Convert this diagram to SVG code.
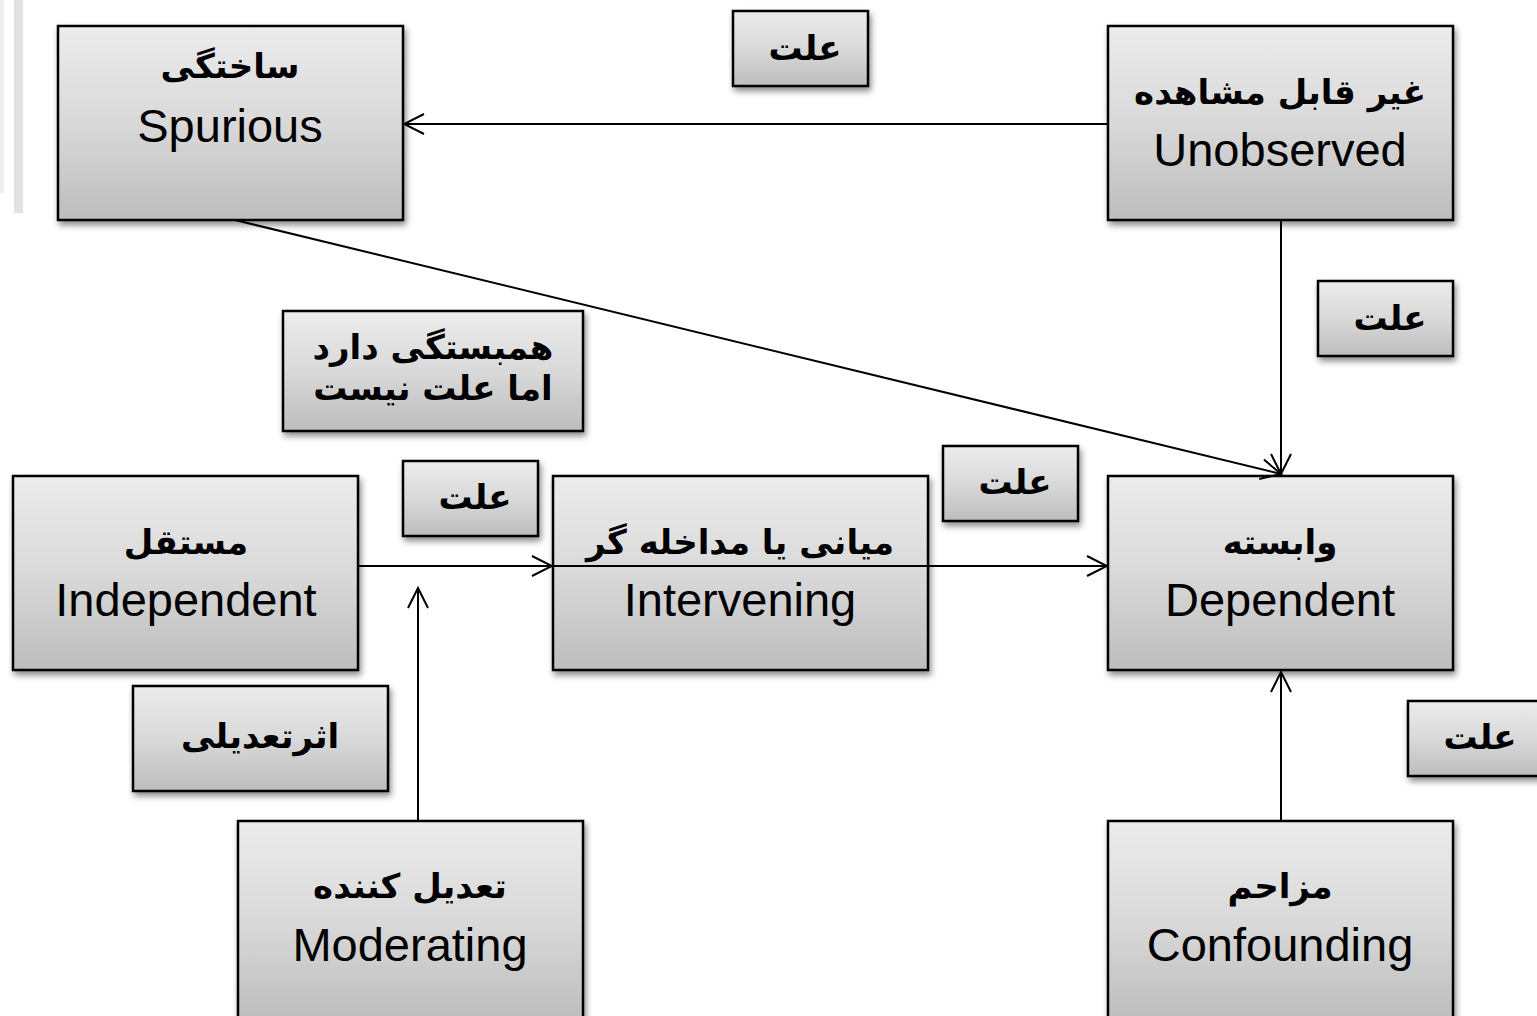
<svg xmlns="http://www.w3.org/2000/svg" width="1537" height="1016" viewBox="0 0 1537 1016">
<style>
.box{fill:url(#g);stroke:#000;stroke-width:2.5;filter:url(#sh)}
.fa{font-family:"DejaVu Sans",sans-serif;font-weight:bold;font-size:34px;fill:#000;text-anchor:middle}
.en{font-family:"Liberation Sans",Arial,sans-serif;font-size:47px;fill:#000;text-anchor:middle}
.ln{stroke:#000;stroke-width:2;fill:none;marker-end:url(#ar)}
</style>
<defs>
<linearGradient id="g" x1="0" y1="0" x2="0" y2="1">
<stop offset="0" stop-color="#ececec"/>
<stop offset="0.5" stop-color="#d9d9d9"/>
<stop offset="1" stop-color="#bdbdbd"/>
</linearGradient>
<filter id="sh" x="-10%" y="-10%" width="125%" height="130%">
<feDropShadow dx="2" dy="4" stdDeviation="3" flood-color="#000" flood-opacity="0.45"/>
</filter>
<marker id="ar" markerWidth="24" markerHeight="24" refX="22" refY="12" orient="auto" markerUnits="userSpaceOnUse">
<path d="M2,2 L22,12 L2,22" fill="none" stroke="#000" stroke-width="2"/>
</marker>
</defs>
<rect width="1537" height="1016" fill="#fff"/>
<rect x="0" y="0" width="4" height="193" fill="#eeeeee"/>
<rect x="14" y="0" width="9" height="213" fill="#e2e2e2"/>

<g id="n-spurious"><rect class="box" x="58" y="26" width="345" height="194"/><text class="fa" x="230" y="78">ساختگی</text><text class="en" x="230" y="142">Spurious</text></g>
<g id="n-unobserved"><rect class="box" x="1108" y="26" width="345" height="194"/><text class="fa" x="1280" y="104">غیر قابل مشاهده</text><text class="en" x="1280" y="166">Unobserved</text></g>
<g id="n-independent"><rect class="box" x="13" y="476" width="345" height="194"/><text class="fa" x="186" y="554">مستقل</text><text class="en" x="186" y="616">Independent</text></g>
<g id="n-intervening"><rect class="box" x="553" y="476" width="375" height="194"/><text class="fa" x="740" y="554">میانی یا مداخله گر</text><text class="en" x="740" y="616">Intervening</text></g>
<g id="n-dependent"><rect class="box" x="1108" y="476" width="345" height="194"/><text class="fa" x="1280" y="554">وابسته</text><text class="en" x="1280" y="616">Dependent</text></g>
<g id="n-moderating"><rect class="box" x="238" y="821" width="345" height="200"/><text class="fa" x="410" y="898">تعدیل کننده</text><text class="en" x="410" y="961">Moderating</text></g>
<g id="n-confounding"><rect class="box" x="1108" y="821" width="345" height="200"/><text class="fa" x="1280" y="898">مزاحم</text><text class="en" x="1280" y="961">Confounding</text></g>

<g id="l1"><rect class="box" x="733" y="11" width="135" height="75"/><text class="fa" x="805" y="60">علت</text></g>
<g id="l2"><rect class="box" x="1318" y="281" width="135" height="75"/><text class="fa" x="1390" y="330">علت</text></g>
<g id="l3"><rect class="box" x="283" y="311" width="300" height="120"/><text class="fa" x="433" y="359" font-size="30">همبستگی دارد</text><text class="fa" x="433" y="400" font-size="30">اما علت نیست</text></g>
<g id="l4"><rect class="box" x="403" y="461" width="135" height="75"/><text class="fa" x="475" y="509">علت</text></g>
<g id="l5"><rect class="box" x="943" y="446" width="135" height="75"/><text class="fa" x="1015" y="494">علت</text></g>
<g id="l6"><rect class="box" x="133" y="686" width="255" height="105"/><text class="fa" x="260" y="748">اثرتعدیلی</text></g>
<g id="l7"><rect class="box" x="1408" y="701" width="135" height="75"/><text class="fa" x="1480" y="749">علت</text></g>

<g id="connectors">
<line class="ln" x1="1108" y1="124" x2="404" y2="124"/>
<line class="ln" x1="235" y1="220" x2="1281" y2="474"/>
<line class="ln" x1="1281" y1="220" x2="1281" y2="474"/>
<line class="ln" x1="358" y1="566" x2="552" y2="566"/>
<line class="ln" x1="553" y1="566" x2="1107" y2="566"/>
<line class="ln" x1="418" y1="821" x2="418" y2="588"/>
<line class="ln" x1="1281" y1="821" x2="1281" y2="672"/>
</g>
</svg>
